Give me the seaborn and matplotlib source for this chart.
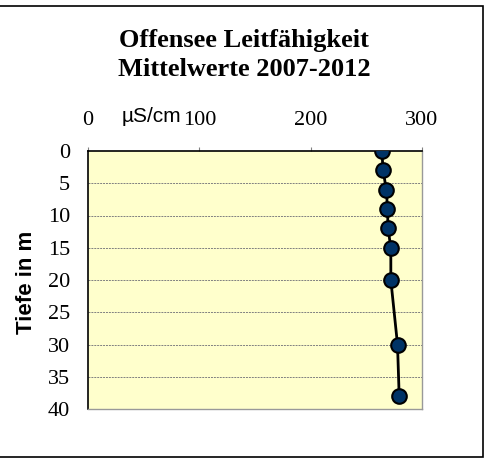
import numpy as np
import pandas as pd
import matplotlib
matplotlib.use("Agg")
import matplotlib.pyplot as plt
import seaborn as sns
from matplotlib.patches import Rectangle

# Mittelwerte 2007-2012
tiefe = [0, 3, 6, 9, 12, 15, 20, 30, 38]
leitf = [264, 265, 268, 269, 269.5, 272, 272, 278, 279.5]
xticks = [0, 100, 200, 300]
yticks = [0, 5, 10, 15, 20, 25, 30, 35, 40]

df = pd.DataFrame({"Tiefe": tiefe, "Leitfaehigkeit": leitf})

sns.set_style("white")
plt.rcParams["font.family"] = ["Liberation Serif", "DejaVu Serif"]
plt.rcParams["text.color"] = "black"
plt.rcParams["xtick.labelcolor"] = "black"
plt.rcParams["ytick.labelcolor"] = "black"

fig = plt.figure(figsize=(4.9, 4.59), dpi=100)
W, H = 490, 459
ax = fig.add_axes([88 / W, 1 - 409 / H, (422 - 88) / W, (409 - 151) / H])
ax.set_facecolor("#FFFFCC")

sns.lineplot(data=df, x="Leitfaehigkeit", y="Tiefe", sort=False, estimator=None,
             color="black", linewidth=2, marker="o", markersize=10.5,
             markerfacecolor="#003366", markeredgecolor="black", markeredgewidth=1.5,
             ax=ax, zorder=3)

ax.set_xlim(0, 300)
ax.set_ylim(40, 0)
ax.set_xticks(xticks)
ax.set_yticks(yticks)
ax.xaxis.tick_top()
ax.tick_params(axis="both", labelsize=16, length=3, direction="out", color="#808080",
               labelcolor="black")
ax.tick_params(axis="x", pad=12)
ax.tick_params(axis="y", pad=10)
ax.set_xlabel("")
ax.set_ylabel("")

for y in yticks[1:-1]:
    ax.axhline(y, color="#808080", linewidth=0.7, linestyle=(0, (2, 1)), zorder=1)

for s in ["left", "top"]:
    ax.spines[s].set_color("black")
    ax.spines[s].set_linewidth(1.2)
for s in ["right", "bottom"]:
    ax.spines[s].set_color("#999999")
    ax.spines[s].set_linewidth(1)

fig.text(27 / W, 1 - 282 / H, "Tiefe in m", family="Liberation Sans", fontsize=16,
         fontweight="bold", rotation=90, ha="center", va="center", color="black")
fig.text(151 / W, 1 - 116 / H, "µS/cm", family="Liberation Sans", fontsize=15,
         ha="center", va="center", color="black")
fig.text(244 / W, 1 - 55 / H, "Offensee Leitfähigkeit\nMittelwerte 2007-2012",
         fontsize=19, fontweight="bold", ha="center", va="center", linespacing=1.35,
         color="black")

fig.patches.append(Rectangle((-2 / W, 1 - 457 / H), 485 / W, 451 / H,
                             transform=fig.transFigure, fill=False,
                             edgecolor="black", linewidth=1.2))

fig.savefig("out.png", dpi=100)
